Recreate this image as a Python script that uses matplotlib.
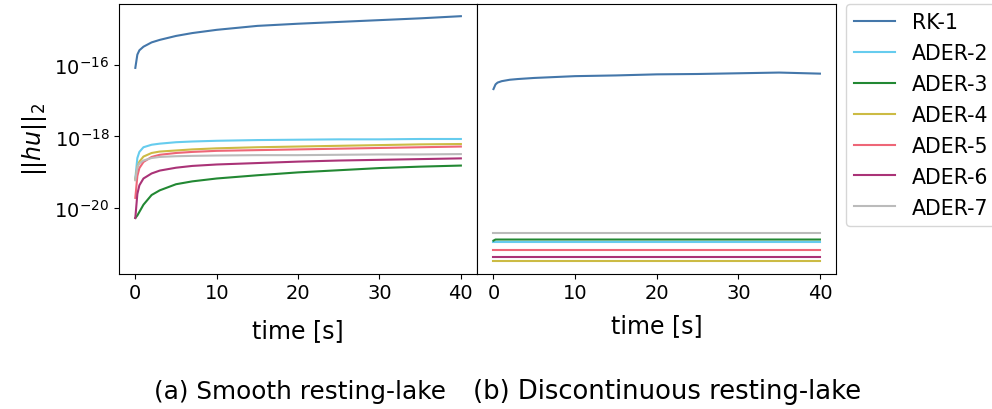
import matplotlib.pyplot as plt
import numpy as np

t = np.array([0, 0.25, 0.5, 1, 2, 3, 5, 7, 10, 15, 20, 25, 30, 35, 40])

labels = ["RK-1", "ADER-2", "ADER-3", "ADER-4", "ADER-5", "ADER-6", "ADER-7"]
colors = ["#4477AA", "#66CCEE", "#228833", "#CCBB44", "#EE6677", "#AA3377", "#BBBBBB"]

# log10 of ||hu||_2, smooth resting lake
smooth_log = [
    [-16.09, -15.72, -15.60, -15.50, -15.38, -15.31, -15.20, -15.12, -15.03, -14.92, -14.86, -14.81, -14.76, -14.71, -14.65],
    [-19.17, -18.60, -18.43, -18.30, -18.23, -18.20, -18.16, -18.14, -18.12, -18.10, -18.09, -18.08, -18.08, -18.07, -18.07],
    [-20.27, -20.20, -20.10, -19.90, -19.63, -19.50, -19.33, -19.25, -19.17, -19.08, -19.00, -18.94, -18.88, -18.84, -18.81],
    [-19.20, -18.85, -18.70, -18.56, -18.46, -18.42, -18.39, -18.36, -18.33, -18.30, -18.28, -18.26, -18.24, -18.22, -18.21],
    [-19.71, -19.10, -18.88, -18.71, -18.57, -18.51, -18.46, -18.43, -18.40, -18.38, -18.36, -18.34, -18.32, -18.30, -18.28],
    [-20.27, -19.60, -19.36, -19.17, -19.03, -18.95, -18.87, -18.82, -18.78, -18.74, -18.70, -18.67, -18.65, -18.63, -18.61],
    [-19.22, -18.85, -18.75, -18.67, -18.60, -18.57, -18.55, -18.54, -18.53, -18.52, -18.52, -18.51, -18.50, -18.50, -18.49],
]

# log10 of ||hu||_2, discontinuous resting lake
disc_log = [
    [-16.68, -16.55, -16.50, -16.46, -16.42, -16.40, -16.37, -16.35, -16.32, -16.30, -16.27, -16.26, -16.24, -16.22, -16.25],
    [-20.94] * 15,
    [-20.90, -20.87, -20.87, -20.87, -20.87, -20.87, -20.87, -20.87, -20.87, -20.87, -20.87, -20.87, -20.87, -20.87, -20.87],
    [-21.48] * 15,
    [-21.17] * 15,
    [-21.36] * 15,
    [-20.68] * 15,
]

fig = plt.figure(figsize=(9.92, 4.1), dpi=100)
ax1 = fig.add_axes([0.120, 0.330, 0.361, 0.658])
ax2 = fig.add_axes([0.481, 0.330, 0.362, 0.658], sharey=ax1)

for i in range(len(labels)):
    ax1.plot(t, 10.0 ** np.array(smooth_log[i]), color=colors[i], lw=1.5, label=labels[i])
    ax2.plot(t, 10.0 ** np.array(disc_log[i]), color=colors[i], lw=1.5, label=labels[i])

ax1.set_yscale("log")
ax1.set_yticks([1e-20, 1e-18, 1e-16])
ax1.minorticks_off()
ax1.tick_params(labelsize=14)
ax2.tick_params(axis="x", labelsize=14)
ax2.tick_params(axis="y", left=False, labelleft=False, which="both")
ax1.set_xticks([0, 10, 20, 30, 40])
ax2.set_xticks([0, 10, 20, 30, 40])

ax1.set_ylabel(r"$||hu||_2$", fontsize=17)
ax1.set_xlabel("time [s]", fontsize=17, labelpad=11)
ax2.set_xlabel("time [s]", fontsize=17, labelpad=8)

ax2.legend(loc="upper left", bbox_to_anchor=(1.027, 1.0), fontsize=14.8,
           borderaxespad=0.0, labelspacing=0.53)

fig.text(0.302, 0.044, "(a) Smooth resting-lake", ha="center", va="center", fontsize=17.8)
fig.text(0.672, 0.044, "(b) Discontinuous resting-lake", ha="center", va="center", fontsize=18.6)

plt.savefig("out.png", dpi=100)
